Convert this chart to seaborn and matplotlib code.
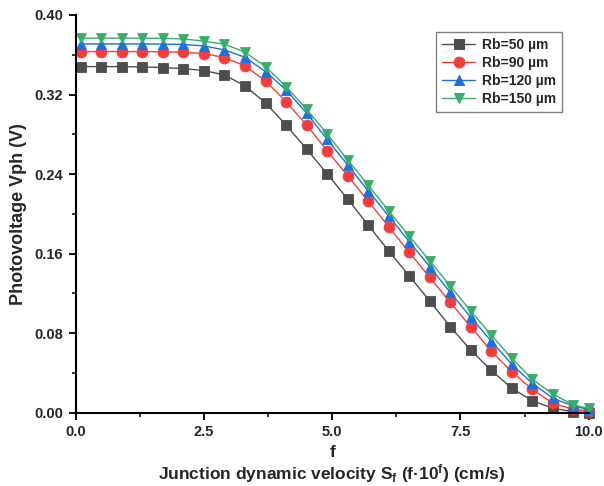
import numpy as np
import pandas as pd
import matplotlib
matplotlib.use("Agg")
import matplotlib.pyplot as plt
from matplotlib.ticker import MultipleLocator, AutoMinorLocator, FormatStrFormatter
import seaborn as sns

# ---- data ----
f_values = [0.1, 0.5, 0.9, 1.3, 1.7, 2.1, 2.5, 2.9, 3.3, 3.7, 4.1, 4.5, 4.9,
            5.3, 5.7, 6.1, 6.5, 6.9, 7.3, 7.7, 8.1, 8.5, 8.9, 9.3, 9.7, 10.0]

vph_rb50 = [0.3481, 0.3481, 0.3481, 0.3478, 0.3471, 0.3461, 0.3441, 0.3397,
            0.3287, 0.3116, 0.2894, 0.2652, 0.2404, 0.2150, 0.1888, 0.1627,
            0.1378, 0.1124, 0.0865, 0.0631, 0.0425, 0.0246, 0.0121, 0.0044,
            0.0010, 0.0002]
vph_rb90 = [0.3632, 0.3632, 0.3632, 0.3632, 0.3630, 0.3626, 0.3612, 0.3572,
            0.3488, 0.3337, 0.3129, 0.2894, 0.2636, 0.2384, 0.2130, 0.1871,
            0.1614, 0.1362, 0.1110, 0.0865, 0.0619, 0.0412, 0.0235, 0.0095,
            0.0034, 0.0020]
vph_rb120 = [0.3709, 0.3709, 0.3709, 0.3709, 0.3707, 0.3704, 0.3689, 0.3649,
             0.3575, 0.3431, 0.3246, 0.3015, 0.2749, 0.2492, 0.2233, 0.1979,
             0.1720, 0.1469, 0.1211, 0.0960, 0.0721, 0.0487, 0.0296, 0.0145,
             0.0067, 0.0034]
vph_rb150 = [0.3767, 0.3767, 0.3767, 0.3767, 0.3765, 0.3760, 0.3736, 0.3706,
             0.3626, 0.3481, 0.3280, 0.3052, 0.2806, 0.2542, 0.2291, 0.2032,
             0.1778, 0.1529, 0.1275, 0.1023, 0.0782, 0.0547, 0.0336, 0.0188,
             0.0077, 0.0044]

series_labels = ["Rb=50 µm", "Rb=90 µm", "Rb=120 µm", "Rb=150 µm"]
series_colors = ["#4D4D4D", "#F03E3E", "#1F6FDC", "#38AD6B"]
series_markers = ["s", "o", "^", "v"]

x_ticks = [0.0, 2.5, 5.0, 7.5, 10.0]
y_ticks = [0.00, 0.08, 0.16, 0.24, 0.32, 0.40]

# ---- long table ----
frames = []
for lab, vals in zip(series_labels, [vph_rb50, vph_rb90, vph_rb120, vph_rb150]):
    frames.append(pd.DataFrame({"f": f_values, "Vph": vals, "series": lab}))
df = pd.concat(frames, ignore_index=True)

sns.set_style("ticks")
plt.rcParams["font.family"] = ["Liberation Sans", "DejaVu Sans"]
plt.rcParams["font.weight"] = "bold"
plt.rcParams["mathtext.fontset"] = "custom"
plt.rcParams["mathtext.rm"] = "Liberation Sans:bold"
plt.rcParams["mathtext.bf"] = "Liberation Sans:bold"
plt.rcParams["mathtext.it"] = "Liberation Sans:bold"

fig = plt.figure(figsize=(6.04, 4.86), dpi=100)
ax = fig.add_axes([75.7 / 604, 73.3 / 486, 513 / 604, 397.7 / 486])

sns.lineplot(data=df, x="f", y="Vph", hue="series", style="series",
             hue_order=series_labels, style_order=series_labels,
             palette=series_colors, markers=series_markers, dashes=False,
             linewidth=1.0, markersize=7.8, ax=ax, legend=True)

for ln, col in zip(ax.lines, series_colors):
    ln.set_markeredgecolor(col)
    ln.set_markerfacecolor(col)
    ln.set_markeredgewidth(0.6)
    ln.set_clip_on(False)

ax.set_xlim(0, 10)
ax.set_ylim(0, 0.40)
ax.xaxis.set_minor_locator(AutoMinorLocator(2))
ax.yaxis.set_minor_locator(AutoMinorLocator(2))
ax.set_xticks(x_ticks)
ax.set_yticks(y_ticks)
ax.xaxis.set_minor_locator(MultipleLocator(1.25))
ax.yaxis.set_minor_locator(MultipleLocator(0.04))
ax.xaxis.set_major_formatter(FormatStrFormatter("%.1f"))
ax.yaxis.set_major_formatter(FormatStrFormatter("%.2f"))

for s in ["top", "right"]:
    ax.spines[s].set_visible(False)
for s in ["left", "bottom"]:
    ax.spines[s].set_linewidth(1.5)
    ax.spines[s].set_color("black")

ax.tick_params(axis="both", which="major", direction="out", length=5, width=1.3,
               labelsize=10.5, pad=4, color="black")
ax.tick_params(axis="both", which="minor", direction="out", length=3, width=1.1,
               color="black")
for lab in ax.get_xticklabels() + ax.get_yticklabels():
    lab.set_fontweight("bold")

ax.set_ylabel("Photovoltage Vph (V)", fontsize=13, fontweight="bold", labelpad=5)
ax.set_xlabel("f\nJunction dynamic velocity S$_{f}$ (f·10$^{f}$) (cm/s)",
              fontsize=12.5, fontweight="bold", labelpad=4, linespacing=1.12)

handles, labels = ax.get_legend_handles_labels()
leg = ax.legend(handles, labels, loc="upper right",
                bbox_to_anchor=(562 / 604, 1 - 32 / 486),
                bbox_transform=fig.transFigure, borderaxespad=0,
                prop={"weight": "bold", "size": 10}, handlelength=2.4,
                labelspacing=0.3, handletextpad=0.5, borderpad=0.4,
                fancybox=False, framealpha=1, edgecolor="#808080")
leg.get_frame().set_linewidth(1.0)
for h, col in zip(leg.legend_handles, series_colors):
    try:
        h.set_markeredgecolor(col)
        h.set_markerfacecolor(col)
    except Exception:
        pass

fig.savefig("out.png", dpi=100)
